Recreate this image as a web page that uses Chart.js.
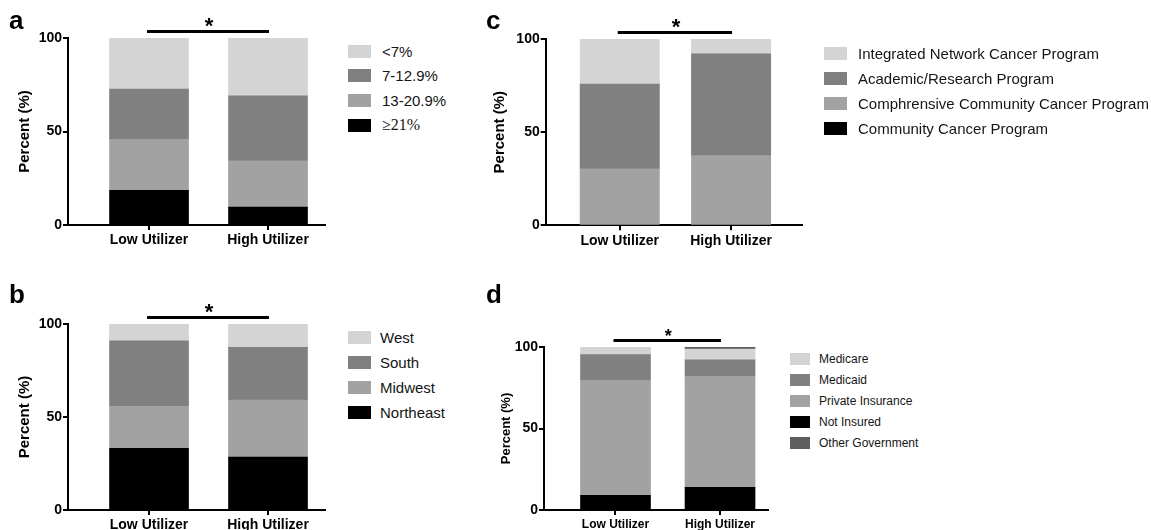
<!DOCTYPE html>
<html><head><meta charset="utf-8">
<script src="https://cdn.jsdelivr.net/npm/chart.js@4.4.1/dist/chart.umd.min.js"></script>
<style>
body{margin:0;background:#fff;width:1151px;height:530px;overflow:hidden;position:relative;font-family:'Liberation Sans',Arial,sans-serif;}
canvas{position:absolute;}
.lab{position:absolute;font-weight:bold;font-size:26px;line-height:26px;color:#000;}
.lg{position:absolute;display:flex;align-items:center;white-space:nowrap;color:#151515;}
.lg i{display:block;flex:none;}
</style></head><body>
<script>
// ---------- data ----------
const categories = ['Low Utilizer', 'High Utilizer'];
const yTickValues = [0, 50, 100];

// a: income / poverty bands
const aLabels = ['≥21%', '13-20.9%', '7-12.9%', '<7%'];
const aGe21   = [18.6, 9.6];
const a13to20 = [27.1, 24.7];
const a7to12  = [27.0, 34.8];
const aLt7    = [27.3, 30.9];

// b: region
const bLabels   = ['Northeast', 'Midwest', 'South', 'West'];
const bNortheast = [33.2, 28.4];
const bMidwest   = [22.6, 30.7];
const bSouth     = [35.2, 28.3];
const bWest      = [9.0, 12.6];

// c: facility type
const cLabels        = ['Community Cancer Program', 'Comphrensive Community Cancer Program', 'Academic/Research Program', 'Integrated Network Cancer Program'];
const cCommunity     = [0, 0];
const cComprehensive = [30.3, 37.4];
const cAcademic      = [45.5, 54.7];
const cIntegrated    = [24.2, 7.9];

// d: insurance
const dLabels     = ['Not Insured', 'Private Insurance', 'Medicaid', 'Medicare', 'Other Government'];
const dNotInsured = [9.0, 13.9];
const dPrivate    = [70.5, 68.0];
const dMedicaid   = [15.8, 10.3];
const dMedicare   = [4.7, 6.6];
const dOtherGov   = [0, 1.2];

// ---------- styles ----------
const C_LIGHT = '#d4d4d4', C_DARK = '#808080', C_MID = '#a2a2a2', C_BLACK = '#000000', C_OTHER = '#5e5e5e';
Chart.defaults.font.family = "'Liberation Sans', Arial, sans-serif";

const panels = [
  { letter: 'a', lx: 9, ly: 7, left: 0, top: 0, w: 335, h: 250, pad: {left: 16, top: 38, right: 10, bottom: 0},
    yW: 52, xH: 25, xMin: -0.681, xMax: 1.479, barW: 79, tick: 14, xlab: 14, title: 15, star: 22,
    labels: aLabels, series: [aGe21, a13to20, a7to12, aLt7], colors: [C_BLACK, C_MID, C_DARK, C_LIGHT],
    legend: {x: 348, y0: 51, dy: 24.8, bw: 23, bh: 13, tx: 382, fs: 15} },
  { letter: 'b', lx: 9, ly: 281, left: 0, top: 270, w: 335, h: 260, pad: {left: 16, top: 54, right: 10, bottom: 0},
    yW: 52, xH: 20, xMin: -0.681, xMax: 1.479, barW: 79, tick: 14, xlab: 14, title: 15, star: 22,
    labels: bLabels, series: [bNortheast, bMidwest, bSouth, bWest], colors: [C_BLACK, C_MID, C_DARK, C_LIGHT],
    legend: {x: 348, y0: 337.3, dy: 25.1, bw: 22.5, bh: 13, tx: 380, fs: 15} },
  { letter: 'c', lx: 486, ly: 7, left: 480, top: 0, w: 345, h: 250, pad: {left: 11, top: 39, right: 23, bottom: 0},
    yW: 54.7, xH: 24.7, xMin: -0.665, xMax: 1.637, barW: 79.3, tick: 14, xlab: 14, title: 15, star: 22,
    labels: cLabels, series: [cCommunity, cComprehensive, cAcademic, cIntegrated], colors: [C_BLACK, C_MID, C_DARK, C_LIGHT],
    legend: {x: 824, y0: 53, dy: 25, bw: 23, bh: 13, tx: 858, fs: 15} },
  { letter: 'd', lx: 486, ly: 281, left: 480, top: 280, w: 300, h: 250, pad: {left: 19, top: 67, right: 12, bottom: 0},
    yW: 45, xH: 20, xMin: -0.684, xMax: 1.459, barW: 70, tick: 14, xlab: 12, title: 13, star: 18,
    labels: dLabels, series: [dNotInsured, dPrivate, dMedicaid, dMedicare, dOtherGov], colors: [C_BLACK, C_MID, C_DARK, C_LIGHT, C_OTHER],
    legend: {x: 790, y0: 358.5, dy: 21.2, bw: 20, bh: 12, tx: 819, fs: 12},
    legendOrder: [3, 2, 1, 0, 4] }
];

const sigPlugin = {
  id: 'sig',
  afterDraw(chart, args, opts) {
    const {ctx, chartArea, scales: {x}} = chart;
    const x0 = x.getPixelForValue(0) - 2, x1 = x.getPixelForValue(1) + 1;
    const y = chartArea.top - 6.5;
    ctx.save();
    ctx.strokeStyle = '#000'; ctx.lineWidth = 3;
    ctx.beginPath(); ctx.moveTo(x0, y); ctx.lineTo(x1, y); ctx.stroke();
    ctx.font = `bold ${opts.size}px 'Liberation Sans', Arial, sans-serif`;
    ctx.textAlign = 'center'; ctx.textBaseline = 'alphabetic'; ctx.fillStyle = '#000';
    ctx.fillText('*', (x0 + x1) / 2 + 1, y + 1.5);
    ctx.restore();
  }
};

panels.forEach(p => {
  const cv = document.createElement('canvas');
  cv.width = p.w; cv.height = p.h;
  cv.style.left = p.left + 'px'; cv.style.top = p.top + 'px';
  cv.style.width = p.w + 'px'; cv.style.height = p.h + 'px';
  document.body.appendChild(cv);

  const lt = document.createElement('div');
  lt.className = 'lab'; lt.textContent = p.letter;
  lt.style.left = p.lx + 'px'; lt.style.top = p.ly + 'px';
  document.body.appendChild(lt);

  const datasets = p.series.map((vals, i) => ({
    label: p.labels[i],
    data: vals.map((v, k) => ({x: k, y: v})),
    backgroundColor: p.colors[i],
    borderWidth: 0,
    barThickness: p.barW,
    stack: 's'
  }));

  new Chart(cv, {
    type: 'bar',
    data: { datasets },
    plugins: [sigPlugin],
    options: {
      responsive: false, animation: false, devicePixelRatio: 1,
      layout: { padding: p.pad },
      plugins: { legend: {display: false}, tooltip: {enabled: false}, sig: {size: p.star} },
      scales: {
        x: {
          type: 'linear', min: p.xMin, max: p.xMax, offset: false,
          afterBuildTicks: s => { s.ticks = categories.map((c, i) => ({value: i})); },
          afterFit: s => { s.height = p.xH; },
          ticks: { callback: v => categories[v], color: '#000', padding: 2, autoSkip: false, maxRotation: 0,
                   font: {size: p.xlab, weight: 'bold'} },
          grid: { offset: false, drawOnChartArea: false, drawTicks: true, tickLength: 5, color: '#000', lineWidth: 2 },
          border: { color: '#000', width: 2 }
        },
        y: {
          min: 0, max: 100, stacked: true,
          afterBuildTicks: s => { s.ticks = yTickValues.map(v => ({value: v})); },
          afterFit: s => { s.width = p.yW; },
          ticks: { color: '#000', padding: 1, font: {size: p.tick, weight: 'bold'} },
          grid: { drawOnChartArea: false, drawTicks: true, tickLength: 5, color: '#000', lineWidth: 2 },
          border: { color: '#000', width: 2 },
          title: { display: true, text: 'Percent (%)', color: '#000', padding: {top: 0, bottom: 0},
                   font: {size: p.title, weight: 'bold'} }
        }
      }
    }
  });

  // legend (top to bottom = top of stack first)
  const order = p.legendOrder || p.labels.map((_, i) => p.labels.length - 1 - i);
  const L = p.legend;
  order.forEach((idx, row) => {
    const yc = L.y0 + row * L.dy;
    const box = document.createElement('div');
    box.style.cssText = `position:absolute;left:${L.x}px;top:${(yc - L.bh / 2).toFixed(1)}px;width:${L.bw}px;height:${L.bh}px;background:${p.colors[idx]};`;
    document.body.appendChild(box);
    const t = document.createElement('div');
    t.className = 'lg';
    const isSerif = p.labels[idx] === '≥21%';
    t.style.cssText += `left:${L.tx}px;top:${(yc - 10).toFixed(1)}px;height:20px;font-size:${isSerif ? L.fs + 1 : L.fs}px;` +
      (isSerif ? "font-family:'Liberation Serif','Times New Roman',serif;" : '');
    t.textContent = p.labels[idx];
    document.body.appendChild(t);
  });
});
</script>
</body></html>
